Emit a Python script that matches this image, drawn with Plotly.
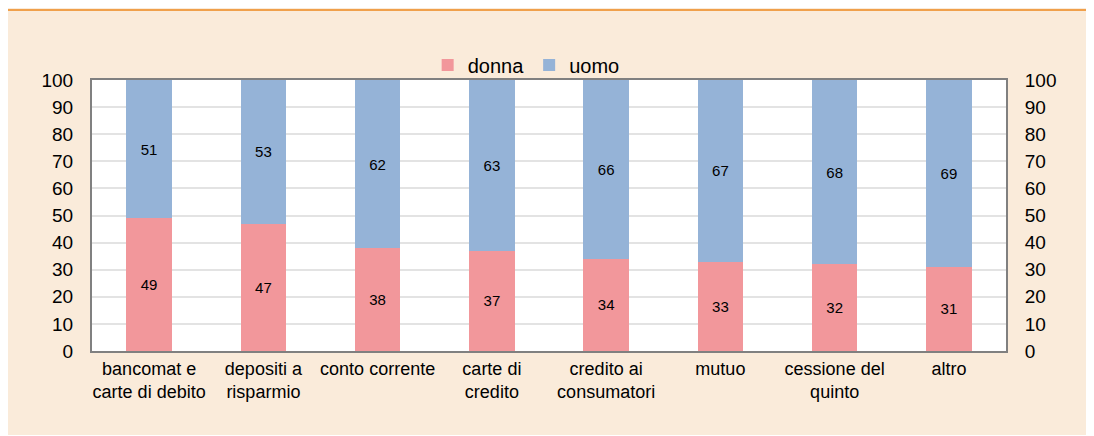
import plotly.graph_objects as go

categories = ["bancomat e<br>carte di debito", "depositi a<br>risparmio", "conto corrente",
              "carte di<br>credito", "credito ai<br>consumatori", "mutuo",
              "cessione del<br>quinto", "altro"]
donna = [49, 47, 38, 37, 34, 33, 32, 31]
uomo = [51, 53, 62, 63, 66, 67, 68, 69]
yticks = [0, 10, 20, 30, 40, 50, 60, 70, 80, 90, 100]

PINK = "#F2979B"
BLUE = "#95B3D7"
BG = "#FAEBDA"
FONT = "Liberation Sans, Arial, sans-serif"

L, T, PW, PH = 84, 72, 914, 271
W, H = 1094, 427

fig = go.Figure()
fig.add_trace(go.Bar(x=categories, y=donna, name="donna", marker=dict(color=PINK, line=dict(width=0)),
                     text=[str(v) for v in donna], textposition="inside", insidetextanchor="middle",
                     textfont=dict(size=15, color="#000000", family=FONT)))
fig.add_trace(go.Bar(x=categories, y=uomo, name="uomo", marker=dict(color=BLUE, line=dict(width=0)),
                     text=[str(v) for v in uomo], textposition="inside", insidetextanchor="middle",
                     textfont=dict(size=15, color="#000000", family=FONT)))
# invisible trace for right axis
fig.add_trace(go.Scatter(x=categories, y=donna, yaxis="y2", mode="markers",
                         marker=dict(opacity=0), showlegend=False, hoverinfo="skip"))

fig.update_layout(
    width=W, height=H,
    barmode="stack", bargap=0.6,
    paper_bgcolor=BG, plot_bgcolor="#FFFFFF",
    margin=dict(l=L, r=W - L - PW, t=T, b=H - T - PH),
    font=dict(family=FONT, color="#000000"),
    uniformtext=dict(mode="show", minsize=15),
    legend=dict(orientation="h", x=0.475, xanchor="center", y=1 + 15 / PH, yanchor="middle",
                font=dict(size=20), bgcolor="rgba(0,0,0,0)", itemwidth=30,
                traceorder="normal", tracegroupgap=0),
    xaxis=dict(showline=True, linecolor="#808080", linewidth=2, mirror=True,
               tickfont=dict(size=18), ticks=""),
    yaxis=dict(range=[0, 100], tickvals=yticks, showgrid=True, gridcolor="#E3E3E3", gridwidth=1.5,
               showline=True, linecolor="#808080", linewidth=2, mirror=True,
               tickfont=dict(size=19), ticks="outside", ticklen=13, tickcolor="rgba(0,0,0,0)",
               zeroline=False),
    yaxis2=dict(range=[0, 100], tickvals=yticks, overlaying="y", side="right", showgrid=False,
                tickfont=dict(size=19), ticks="outside", ticklen=14, tickcolor="rgba(0,0,0,0)",
                zeroline=False),
    shapes=[dict(type="line", xref="paper", yref="paper", x0=-L / PW, x1=1.2,
                 y0=(T + PH - 2) / PH, y1=(T + PH - 2) / PH, line=dict(color="#F0A04B", width=2))],
)
fig.write_html("out.html")
